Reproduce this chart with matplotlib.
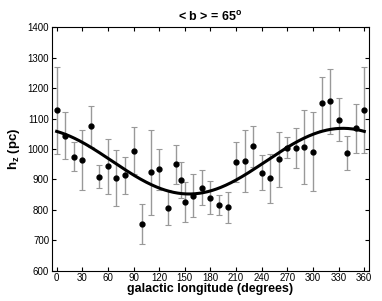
import numpy as np
import matplotlib
matplotlib.use('Agg')
import matplotlib.pyplot as plt

plt.rcParams['font.family'] = ['Liberation Sans', 'DejaVu Sans']
plt.rcParams['mathtext.fontset'] = 'custom'
plt.rcParams['mathtext.rm'] = 'Liberation Sans'
plt.rcParams['mathtext.bf'] = 'Liberation Sans:bold'

# scale height measurements per longitude bin
longitude = [0, 10, 20, 30, 40, 50, 60, 70, 80, 90, 100, 110, 120, 130, 140, 145,
             150, 160, 170, 180, 190, 200, 210, 220, 230, 240, 250, 260, 270, 280,
             290, 300, 310, 320, 330, 340, 350, 360]
hz = [1128, 1044, 975, 964, 1074, 909, 943, 905, 913, 994, 753, 923, 933, 807, 949, 898,
      827, 847, 873, 840, 816, 808, 956, 960, 1009, 922, 903, 966, 1004, 1003,
      1007, 991, 1150, 1157, 1096, 987, 1068, 1128]
hz_err = [143, 78, 48, 100, 66, 38, 90, 92, 60, 77, 65, 139, 67, 57, 65, 58,
          66, 71, 58, 54, 33, 50, 66, 103, 68, 57, 81, 90, 35, 65,
          121, 130, 88, 107, 71, 56, 81, 141]

# sinusoidal fit
fit_mean = 960
fit_amp = 108
fit_peak = 335

fig = plt.figure(figsize=(3.82, 3.01), dpi=100)
ax = fig.add_axes([0.136, 0.101, 0.830, 0.808])

ax.errorbar(longitude, hz, yerr=hz_err, fmt='o', color='black', markersize=3.5,
            ecolor='#999999', elinewidth=1.0, capsize=2.2, capthick=0.8, zorder=2)

lon_fit = np.linspace(0, 360, 361)
ax.plot(lon_fit, fit_mean + fit_amp * np.cos(np.radians(lon_fit - fit_peak)),
        color='black', linewidth=2.2, zorder=3)

ax.set_xlim(-5.5, 365.5)
ax.set_ylim(600, 1400)
ax.set_xticks(range(0, 361, 30))
ax.set_yticks(range(600, 1401, 100))
ax.tick_params(direction='in', top=True, right=True, labelsize=7, length=3, pad=2)
for s in ax.spines.values():
    s.set_linewidth(0.8)

ax.set_xlabel('galactic longitude (degrees)', fontsize=9, fontweight='bold', labelpad=0)
ax.set_ylabel(r'$\mathbf{h_z}$ $\mathbf{(pc)}$', fontsize=9.5, labelpad=4)
ax.set_title(r'< b > = 65$^\mathbf{o}$', fontsize=9, fontweight='bold', pad=5)

fig.savefig('out.png', dpi=100)
